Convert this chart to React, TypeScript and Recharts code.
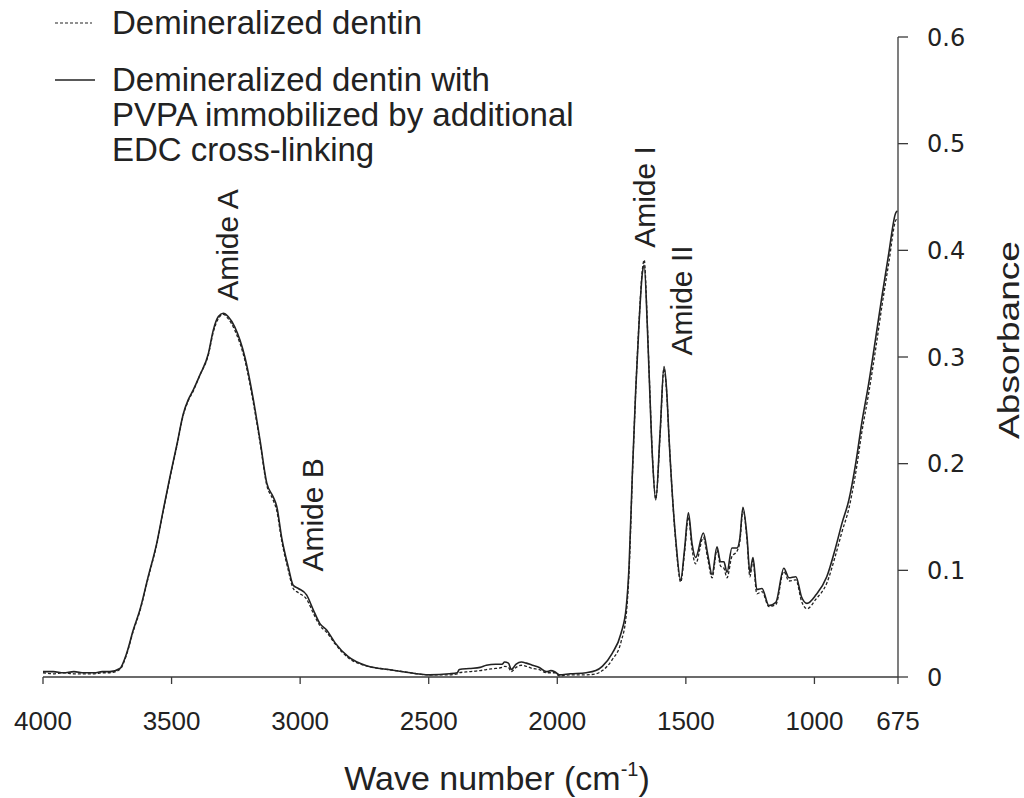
import React from "react";
import { LineChart, Line, XAxis, YAxis, Legend, ReferenceDot } from "recharts";

// wave numbers (cm-1), high to low
const waveNumbers = [
  4000, 3960, 3920, 3880, 3840, 3800, 3770, 3740, 3701, 3675,
  3649, 3623, 3591, 3558, 3532, 3506, 3480, 3454, 3435, 3416,
  3390, 3357, 3338, 3318, 3299, 3280, 3254, 3215, 3182, 3156,
  3130, 3105, 3091, 3072, 3046, 3027, 3007, 2975, 2949, 2923,
  2897, 2864, 2813, 2735, 2657, 2600, 2497, 2420, 2389, 2381,
  2342, 2300, 2276, 2240, 2215, 2205, 2190, 2179, 2160, 2140,
  2120, 2097, 2070, 2043, 2025, 2010, 1992, 1950, 1888, 1850,
  1825, 1787, 1752, 1732, 1721, 1708, 1695, 1682, 1669, 1662,
  1650, 1643, 1630, 1617, 1600, 1585, 1575, 1565, 1539, 1520,
  1505, 1490, 1476, 1462, 1432, 1415, 1398, 1379, 1365, 1352,
  1340, 1321, 1301, 1290, 1278, 1262, 1251, 1239, 1224, 1204,
  1177, 1150, 1119, 1099, 1072, 1050, 1029, 994, 952, 917,
  893, 866, 839, 816, 789, 761, 738, 711, 684, 677,
];

// dashed: demineralized dentin
const demineralized = [
  0.004, 0.003, 0.004, 0.003, 0.003, 0.003, 0.004, 0.004, 0.007, 0.021,
  0.043, 0.062, 0.093, 0.124, 0.156, 0.187, 0.216, 0.246, 0.259, 0.268,
  0.283, 0.302, 0.323, 0.336, 0.34, 0.336, 0.325, 0.297, 0.257, 0.22,
  0.18, 0.166, 0.156, 0.128, 0.1, 0.083, 0.079, 0.073, 0.06, 0.048,
  0.042, 0.031, 0.018, 0.01, 0.007, 0.005, 0.002, 0.002, 0.003, 0.004,
  0.005, 0.006, 0.007, 0.008, 0.009, 0.01, 0.009, 0.005, 0.009, 0.011,
  0.01, 0.008, 0.007, 0.004, 0.004, 0.004, 0.001, 0.002, 0.002, 0.003,
  0.006, 0.016, 0.033, 0.058, 0.098, 0.188, 0.268, 0.333, 0.382, 0.391,
  0.332, 0.287, 0.207, 0.167, 0.228, 0.289, 0.268, 0.222, 0.126, 0.089,
  0.117, 0.15, 0.12, 0.106, 0.131, 0.111, 0.093, 0.119, 0.104, 0.102,
  0.093, 0.113, 0.118, 0.127, 0.157, 0.128, 0.094, 0.109, 0.078, 0.08,
  0.066, 0.068, 0.099, 0.09, 0.091, 0.071, 0.064, 0.073, 0.088, 0.115,
  0.136, 0.158, 0.192, 0.229, 0.266, 0.309, 0.347, 0.388, 0.428, 0.43,
];

// solid: demineralized dentin with PVPA + EDC
const pvpaEdc = [
  0.005, 0.005, 0.004, 0.005, 0.004, 0.004, 0.005, 0.005, 0.008, 0.022,
  0.044, 0.063, 0.094, 0.125, 0.157, 0.188, 0.217, 0.247, 0.26, 0.269,
  0.283, 0.303, 0.325, 0.338, 0.341, 0.338, 0.328, 0.3, 0.26, 0.222,
  0.182, 0.169, 0.16, 0.131, 0.103, 0.086, 0.083, 0.077, 0.063, 0.05,
  0.044, 0.032, 0.019, 0.01, 0.007, 0.005, 0.002, 0.003, 0.004, 0.007,
  0.008, 0.009, 0.011, 0.012, 0.012, 0.014, 0.013, 0.007, 0.012, 0.014,
  0.013, 0.011, 0.009, 0.005, 0.006, 0.005, 0.002, 0.003, 0.004, 0.006,
  0.01, 0.022, 0.041, 0.065, 0.103, 0.191, 0.269, 0.332, 0.379, 0.386,
  0.33, 0.285, 0.206, 0.166, 0.23, 0.291, 0.27, 0.222, 0.128, 0.091,
  0.12, 0.154, 0.125, 0.112, 0.135, 0.115, 0.096, 0.122, 0.108, 0.108,
  0.098, 0.121, 0.121, 0.13, 0.159, 0.131, 0.098, 0.112, 0.082, 0.083,
  0.067, 0.07, 0.102, 0.093, 0.094, 0.075, 0.069, 0.077, 0.094, 0.122,
  0.144, 0.166, 0.201, 0.238, 0.275, 0.319, 0.356, 0.397, 0.435, 0.437,
];

const xTicks = [4000, 3500, 3000, 2500, 2000, 1500, 1000, 675];
const yTicks = [0, 0.1, 0.2, 0.3, 0.4, 0.5, 0.6];

const bandNames = ["Amide A", "Amide B", "Amide I", "Amide II"];
const bandWave = [3285, 2955, 1662, 1518];
const bandAbs = [0.405, 0.152, 0.45, 0.353];

const legendLines = [
  "Demineralized dentin",
  "Demineralized dentin with",
  "PVPA immobilized by additional",
  "EDC cross-linking",
];

const data = waveNumbers.map((wn, i) => ({ wn, demin: demineralized[i], pvpa: pvpaEdc[i] }));

const INK = "#222";
const AXIS = "#3a3a3a";
const SANS = "'Liberation Sans', Arial, sans-serif";

function XTick({ x, y, payload }: any) {
  return (
    <text x={x} y={y} dy={46} textAnchor="middle" fontFamily={SANS} fontSize={26} fill={INK}>
      {payload.value}
    </text>
  );
}

function YTick({ x, y, payload }: any) {
  return (
    <text x={x} y={y} dy="0.36em" textAnchor="start" fontFamily="'DejaVu Sans', sans-serif" fontSize={24} fill={INK}>
      {String(payload.value)}
    </text>
  );
}

function renderLegend() {
  const textProps = { fontFamily: SANS, fontSize: 33, fill: INK };
  return (
    <svg width={640} height={175} style={{ display: "block" }}>
      <line x1={55} x2={92} y1={23} y2={23} stroke={INK} strokeWidth={1.2} strokeDasharray="3 2" />
      <text x={112} y={34} {...textProps}>{legendLines[0]}</text>
      <line x1={55} x2={95} y1={80} y2={80} stroke={INK} strokeWidth={1.4} />
      <text x={112} y={91} {...textProps}>{legendLines[1]}</text>
      <text x={112} y={125.5} {...textProps}>{legendLines[2]}</text>
      <text x={112} y={160.5} {...textProps}>{legendLines[3]}</text>
    </svg>
  );
}

function bandLabel(name: string) {
  return ({ viewBox }: any) => {
    const cx = viewBox.x + viewBox.width / 2;
    const cy = viewBox.y + viewBox.height / 2;
    return (
      <text
        x={cx}
        y={cy}
        dy="0.36em"
        textAnchor="middle"
        transform={`rotate(-90 ${cx} ${cy})`}
        fontFamily={SANS}
        fontSize={30}
        fill={INK}
      >
        {name}
      </text>
    );
  };
}

export default function App() {
  return (
    <div style={{ position: "absolute", left: 0, top: 0, background: "#fff" }}>
      <LineChart width={1024} height={798} data={data} margin={{ top: 37, right: 0, left: 43, bottom: 0 }}>
        <XAxis
          dataKey="wn"
          type="number"
          domain={[675, 4000]}
          reversed
          ticks={xTicks}
          interval={0}
          height={121}
          tickSize={7}
          tickMargin={0}
          tick={<XTick />}
          stroke={AXIS}
          strokeWidth={1.3}
          label={{
            content: ({ viewBox }: any) => {
              const cx = viewBox.x + 454;
              const by = viewBox.y + 113;
              return (
                <text x={cx} y={by} textAnchor="middle" fontFamily={SANS} fontSize={34} fill={INK}>
                  Wave number (cm
                  <tspan dy={-14} fontSize={20}>-1</tspan>
                  <tspan dy={14}>)</tspan>
                </text>
              );
            },
          }}
        />
        <YAxis
          orientation="right"
          type="number"
          domain={[0, 0.6]}
          ticks={yTicks}
          interval={0}
          width={126}
          tickSize={10}
          tickMargin={19}
          tick={<YTick />}
          stroke={AXIS}
          strokeWidth={1.3}
          label={{
            content: ({ viewBox }: any) => {
              const cx = viewBox.x + 110;
              const cy = viewBox.y + 303;
              return (
                <text
                  x={cx}
                  y={cy}
                  dy="0.36em"
                  textAnchor="middle"
                  transform={`rotate(-90 ${cx} ${cy})`}
                  fontFamily={SANS}
                  fontSize={30}
                  textLength={198}
                  lengthAdjust="spacingAndGlyphs"
                  fill={INK}
                >
                  Absorbance
                </text>
              );
            },
          }}
        />
        <Legend
          layout="horizontal"
          verticalAlign="middle"
          align="center"
          content={renderLegend}
          wrapperStyle={{ position: "absolute", left: 0, top: 0, width: 640, height: 175 }}
        />
        <Line
          name="Demineralized dentin"
          dataKey="demin"
          type="monotone"
          stroke={INK}
          strokeWidth={1.3}
          strokeDasharray="3 2"
          dot={false}
          activeDot={false}
          isAnimationActive={false}
        />
        <Line
          name="Demineralized dentin with PVPA immobilized by additional EDC cross-linking"
          dataKey="pvpa"
          type="monotone"
          stroke={INK}
          strokeWidth={1.6}
          dot={false}
          activeDot={false}
          isAnimationActive={false}
        />
        {bandNames.map((name, i) => (
          <ReferenceDot
            key={name}
            x={bandWave[i]}
            y={bandAbs[i]}
            r={0}
            fill="none"
            stroke="none"
            label={{ content: bandLabel(name) }}
          />
        ))}
      </LineChart>
    </div>
  );
}
